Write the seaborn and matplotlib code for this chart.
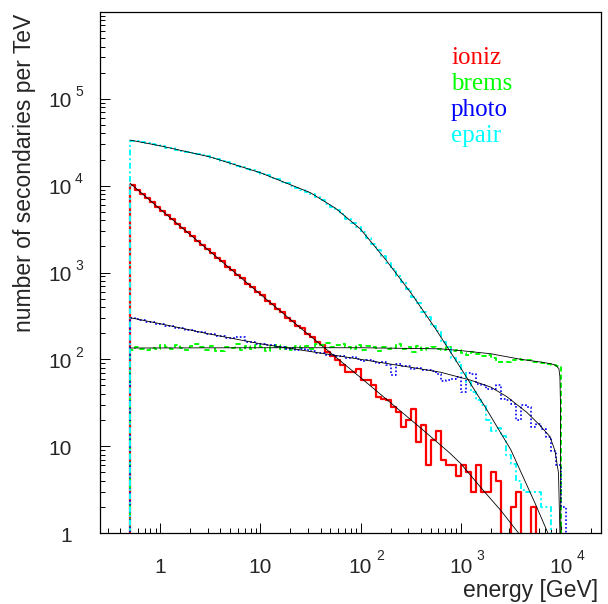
import numpy as np
import matplotlib
matplotlib.use("Agg")
import matplotlib.pyplot as plt
import seaborn as sns

# ---------------- data ----------------
# histogram binning: 100 bins in log10(E/GeV) from -0.6 to 4.4; filled bins start at 0.5 GeV
log_edges = np.linspace(-0.6, 4.4, 101)
first_bin = 6

ioniz = [10100, 9000, 8100, 7150, 6480, 5720, 5170, 4560, 4130, 3640, 3290, 2900, 2630, 2310,
         2100, 1850, 1680, 1470, 1340, 1170, 1070, 935, 855, 745, 680, 595, 545, 472, 436, 378,
         350, 300, 280, 240,
         229, 195, 182, 158, 145, 123, 110, 98, 85, 72, 72, 77, 58, 58, 50, 37, 35, 34, 28, 25,
         16.6, 20, 27, 11.2, 17.4, 6, 11.7, 15.1, 7, 6, 6, 4.5, 6, 5, 3, 6, 3, 3, 5, 4,
         0, 0, 2, 3, 0, 0, 2, 0, 0, 0, 0, 0, 0]

brems = [128, 140, 131, 127, 136, 131, 145, 140, 130, 147, 134, 128, 142, 150, 137, 129, 141,
         126, 124, 138, 136, 152, 127, 141, 133, 145, 138, 126, 140, 148, 132, 137, 129, 143,
         136, 142, 131, 150, 147, 155, 140, 145, 152, 138, 133, 146, 128, 141, 137, 125, 140,
         132, 136, 150, 131, 139, 121, 144, 129, 135, 138,
         131, 128, 140, 126, 129, 118, 112, 120, 114, 108, 112, 104, 93, 94, 92, 99, 101, 98,
         97, 94, 92, 90, 88, 85, 83,
         0]

photo = [300, 288, 285, 272, 270, 258, 256, 244, 243, 231, 229, 218, 217, 206, 206, 195, 194,
         185, 186, 176, 177, 182, 180, 160, 158, 151, 152, 145, 146, 140, 139, 133, 134, 127,
         131, 128, 126, 117, 118, 113,
         112, 108, 110, 103, 106, 100, 95, 99, 96, 90, 92, 86, 66, 89, 84, 83, 78, 80, 75, 76,
         73, 68, 56, 58, 59, 62, 42, 69, 68, 52, 50, 46, 45, 50, 35, 34, 31, 20, 29.5, 28,
         16.6, 18.2, 15.8, 12.6, 8.9, 6.0, 2.0]

epair = [33100, 32300, 31500, 30700, 29900, 29200, 28400, 27500, 26800, 26000, 25100, 24500,
         23800, 23100, 22400, 21700, 20900, 20100, 19300, 18500, 17700, 17000, 16300, 15700,
         15000, 14400, 13700, 13100, 12400, 11800, 11100, 10600, 10000, 9510, 9020, 8550, 7980,
         7350, 6760, 6220, 5730, 5200, 4660, 4170, 3730, 3340, 2920, 2480, 2110, 1800,
         1540, 1280, 1100, 905, 770, 650, 525, 450, 355, 305, 240, 210, 160, 138, 104, 92,
         70, 55, 42, 34, 30, 20, 15, 16, 13, 8, 6.3, 4, 3.1, 3, 3, 3, 2, 2,
         0, 0, 0]

# fitted curves (black lines)
ioniz_fit_E = [0.5, 1.0, 3.16, 10, 24.7, 100, 247, 398, 781, 1000, 1680, 2510, 3770, 5010]
ioniz_fit_V = [10700, 5370, 1740, 562, 234, 61.7, 25.7, 16.2, 8.3, 6.3, 3.09, 1.82, 1.0, 0.63]

brems_fit_E = [0.5, 10, 100, 631, 1000, 1995, 3980, 6310, 7940, 8910, 9550, 9770, 9890, 10000]
brems_fit_V = [135, 136, 136, 132, 126, 116, 100, 93, 89, 85, 78, 63, 32, 0.3]

photo_fit_E = [0.5, 1, 3.16, 10, 31.6, 100, 316, 631, 1260, 1995, 2880, 4570, 6170, 7760,
               8710, 9460, 9770, 9890]
photo_fit_V = [302, 257, 195, 151, 123, 100, 81, 71, 57.5, 47.9, 37.2, 24.5, 17.4, 12.9,
               8.9, 4.9, 1.0, 0.3]

epair_fit_E = [0.5, 1, 3.16, 10, 31.6, 56.2, 100, 178, 316, 562, 1000, 1780, 3160, 5620,
               7410, 8910]
epair_fit_V = [33500, 28800, 21400, 14100, 8300, 5500, 3160, 1410, 589, 224, 79.4, 27.5,
               9.1, 2.1, 1.0, 0.6]

labels = ["ioniz", "brems", "photo", "epair"]
colors = ["#ff0000", "#00ff00", "#0000ff", "#00ffff"]

# ---------------- figure ----------------
sns.set_style("white")
plt.rcParams["font.family"] = ["Liberation Sans", "DejaVu Sans"]

W, H = 608, 604
fig = plt.figure(figsize=(W / 100, H / 100), dpi=100)
ax = fig.add_axes([100 / W, 71 / H, 501 / W, 521 / H])

n = len(ioniz)
centers = 10 ** (log_edges[first_bin:first_bin + n] + 0.025)

styles = [
    dict(lw=1.6, linestyle="-"),
    dict(lw=1.4, linestyle=(0, (2.6, 1.6))),
    dict(lw=1.2, linestyle=(0, (1.0, 1.3))),
    dict(lw=1.4, linestyle=(0, (3.0, 1.4, 1.0, 1.4))),
]
series = [ioniz, brems, photo, epair]
for vals, col, st in zip(series, colors, styles):
    sns.histplot(x=centers, weights=np.asarray(vals, float), bins=list(log_edges),
                 log_scale=True, element="step", fill=False, color=col, ax=ax, **st)

fits = [(ioniz_fit_E, ioniz_fit_V), (brems_fit_E, brems_fit_V),
        (photo_fit_E, photo_fit_V), (epair_fit_E, epair_fit_V)]
for fe, fv in fits:
    sns.lineplot(x=fe, y=fv, color="black", lw=0.6, estimator=None, sort=False, ax=ax)

ax.set_xscale("log")
ax.set_yscale("log")
ax.set_xlim(10 ** -0.6, 10 ** 4.4)
ax.set_ylim(1, 1e6)
ax.set_xlabel("")
ax.set_ylabel("")

for s in ax.spines.values():
    s.set_color("black")
    s.set_linewidth(0.9)

ax.tick_params(which="both", direction="in", bottom=True, left=True, top=False, right=False,
               labelbottom=False, labelleft=False, width=0.7, color="black")
ax.tick_params(which="major", length=7.2)
ax.tick_params(which="minor", length=3.6)
ax.xaxis.set_major_locator(matplotlib.ticker.LogLocator(base=10, numticks=20))
ax.xaxis.set_minor_locator(matplotlib.ticker.LogLocator(base=10, subs=np.arange(2, 10), numticks=50))
ax.yaxis.set_major_locator(matplotlib.ticker.LogLocator(base=10, numticks=20))
ax.yaxis.set_minor_locator(matplotlib.ticker.LogLocator(base=10, subs=np.arange(2, 10), numticks=50))

# ROOT-style tick labels: base "10" and a raised exponent
fs_base, fs_exp = 15, 10
for k in range(0, 6):
    y = 10.0 ** k
    base = "1" if k == 0 else "10"
    ax.annotate(base, xy=(0, y), xycoords=("axes fraction", "data"), xytext=(-28, -8.5),
                textcoords="offset pixels", ha="right", va="baseline", fontsize=fs_base)
    if k >= 2:
        ax.annotate(str(k), xy=(0, y), xycoords=("axes fraction", "data"), xytext=(-25, 2.5),
                    textcoords="offset pixels", ha="left", va="baseline", fontsize=fs_exp)
for k in range(0, 5):
    x = 10.0 ** k
    base = "1" if k == 0 else "10"
    ax.annotate(base, xy=(x, 0), xycoords=("data", "axes fraction"), xytext=(0, -40),
                textcoords="offset pixels", ha="center", va="baseline", fontsize=fs_base)
    if k >= 2:
        ax.annotate(str(k), xy=(x, 0), xycoords=("data", "axes fraction"), xytext=(16, -27),
                    textcoords="offset pixels", ha="left", va="baseline", fontsize=fs_exp)

# axis titles
fig.text(598 / W, 1 - 579 / H, "energy [GeV]", ha="right", va="top", fontsize=16.5)
fig.text(25 / W, 1 - 14 / H, "number of secondaries per TeV", ha="center", va="top",
         rotation=90, fontsize=16.5)

# legend text
for i, (lab, col) in enumerate(zip(labels, colors)):
    fig.text(451 / W, 1 - (64 + 26 * i) / H, lab, color=col, ha="left", va="baseline",
             fontsize=18, family=["Liberation Serif", "DejaVu Serif"])

fig.savefig("out.png", dpi=100)
